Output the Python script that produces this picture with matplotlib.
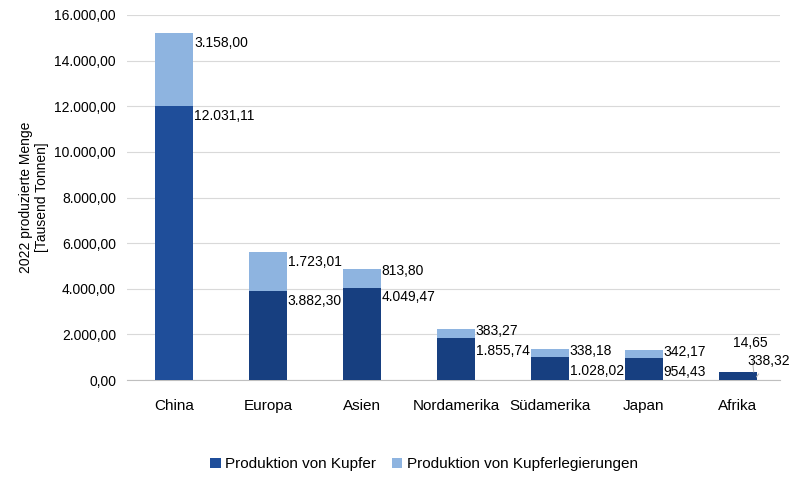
import matplotlib
matplotlib.use("Agg")
import matplotlib.pyplot as plt

regionen = ["China", "Europa", "Asien", "Nordamerika", "Südamerika", "Japan", "Afrika"]
kupfer = [12031.11, 3882.30, 4049.47, 1855.74, 1028.02, 954.43, 338.32]
legierungen = [3158.00, 1723.01, 813.80, 383.27, 338.18, 342.17, 14.65]

def de(v):
    return f"{v:,.2f}".replace(",", "X").replace(".", ",").replace("X", ".")

plt.rcParams['font.family'] = ['Liberation Sans', 'DejaVu Sans']
fig = plt.figure(figsize=(8, 5), dpi=100)
ax = fig.add_axes([0.159, 0.24, 0.816, 0.73])

dunkel = ["#1f4e9a"] + ["#173f80"] * (len(regionen) - 1)
x = range(len(regionen))
ax.bar(x, kupfer, width=0.4, color=dunkel, label="Produktion von Kupfer", zorder=3)
ax.bar(x, legierungen, width=0.4, bottom=kupfer, color="#8eb4e0",
       label="Produktion von Kupferlegierungen", zorder=3)

ax.set_ylim(0, 16000)
ax.set_xlim(-0.5, len(regionen) - 0.55)
px_per_unit = 365 / 16000

for i, (k, l) in enumerate(zip(kupfer, legierungen)):
    if regionen[i] == "Afrika":
        # Beschriftungen mit Fuehrungslinien
        ax.annotate(de(l), xy=(i + 0.17, k + l), xytext=(-3, 29), textcoords="offset pixels",
                    fontsize=10, ha="center", va="center",
                    arrowprops=dict(arrowstyle="-", color="#bbbbbb", lw=0.8, shrinkA=6, shrinkB=0))
        ax.annotate(de(k), xy=(i + 0.2, k - 200), xytext=(12, 16), textcoords="offset pixels",
                    fontsize=10, ha="center", va="center",
                    arrowprops=dict(arrowstyle="-", color="#bbbbbb", lw=0.8, shrinkA=3, shrinkB=0))
        continue
    gap = l * px_per_unit
    if gap > 30:
        ax.annotate(de(l), xy=(i + 0.2, k + l), xytext=(1, -3), textcoords="offset pixels",
                    fontsize=10, ha="left", va="top")
        ax.annotate(de(k), xy=(i + 0.2, k), xytext=(1, -3), textcoords="offset pixels",
                    fontsize=10, ha="left", va="top")
    else:
        ax.annotate(de(l), xy=(i + 0.2, k + l), xytext=(1, -2), textcoords="offset pixels",
                    fontsize=10, ha="left", va="center")
        ax.annotate(de(k), xy=(i + 0.2, k), xytext=(1, -max(2, 15 - gap)), textcoords="offset pixels",
                    fontsize=10, ha="left", va="top")

ax.set_yticks(range(0, 16001, 2000))
ax.set_yticklabels([de(v) for v in range(0, 16001, 2000)], fontsize=10)
ax.set_xticks(list(x))
ax.set_xticklabels(regionen, fontsize=11)
ax.tick_params(length=0, pad=8)
ax.tick_params(axis="x", pad=14)
ax.grid(axis="y", color="#d9d9d9", lw=0.8, zorder=0)
for s in ["top", "right", "left"]:
    ax.spines[s].set_visible(False)
ax.spines["bottom"].set_color("#bfbfbf")
ax.set_ylabel("2022 produzierte Menge\n[Tausend Tonnen]", fontsize=10)

fig.legend(loc="lower center", bbox_to_anchor=(0.53, 0.03), ncol=2, frameon=False,
           fontsize=11, handlelength=0.7, handleheight=0.7, columnspacing=1.0, handletextpad=0.3)
fig.savefig("out.png", dpi=100)
